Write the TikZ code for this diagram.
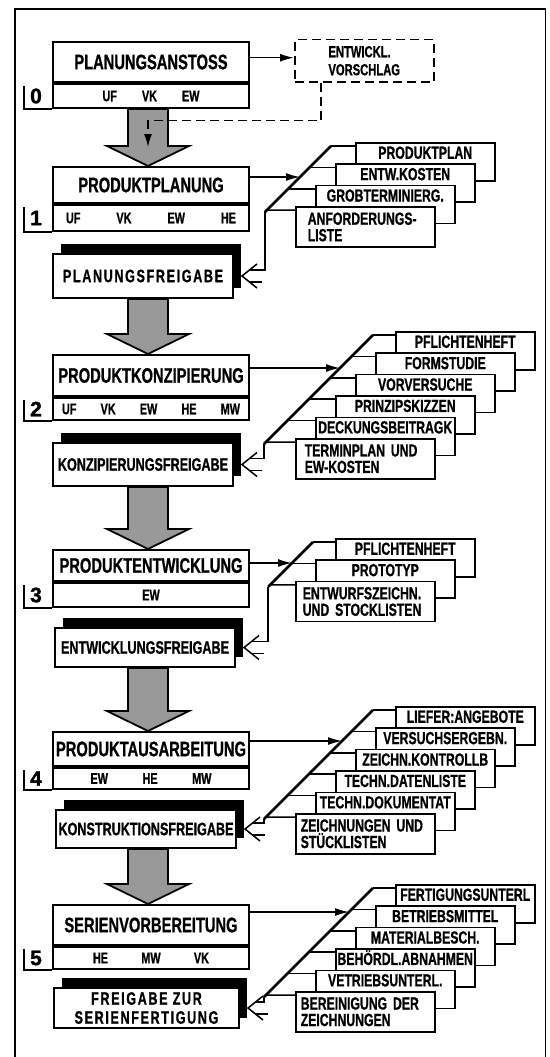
\documentclass[tikz,border=0pt]{standalone}
\usepackage{fontspec}
\setmainfont{Liberation Sans}
\newfontfamily\condfont{Liberation Sans}[FakeStretch=0.7, FakeBold=0.8]
\newfontfamily\numfont{Liberation Sans}[FakeBold=1.5]
\usetikzlibrary{arrows.meta, calc, shadows, backgrounds}

\tikzset{
  stagebox/.style={draw, line width=2pt, fill=white, anchor=north west,
    minimum width=196pt, inner sep=0pt,
    font=\condfont\bfseries\fontsize{21}{24}\selectfont},
  stagesub/.style={draw, line width=2pt, fill=white, anchor=north west,
    minimum width=196pt, inner sep=0pt,
    font=\condfont\bfseries\fontsize{15.5}{18}\selectfont},
  stagenum/.style={inner sep=0pt, font=\numfont\bfseries\fontsize{21}{24}\selectfont},
  tab/.style={line width=2pt},
  release/.style={draw, line width=2pt, fill=white, anchor=north west,
    minimum width=180pt, inner sep=0pt, align=center,
    font=\condfont\bfseries\fontsize{18}{19}\selectfont,
    general shadow={fill=black, shadow xshift=8pt, shadow yshift=10pt}},
  spaced/.style={font=\condfont\bfseries\fontsize{18}{19}\selectfont\addfontfeature{LetterSpace=9}},
  docbase/.style={draw, line width=1.5pt, fill=white, anchor=north west,
    minimum width=139pt, inner sep=0pt,
    font=\condfont\bfseries\fontsize{17.5}{16.5}\selectfont},
  doc/.style={docbase, text height=16pt, text depth=22pt},
  lastdoc/.style={docbase, minimum height=40pt, align=left,
    text width=129pt, inner xsep=5pt},
  proposalbox/.style={draw, line width=1.5pt, dash pattern=on 9pt off 5pt,
    anchor=north west, minimum width=139pt, minimum height=42pt, align=left,
    font=\condfont\bfseries\fontsize{16}{18}\selectfont},
  spine/.style={line width=2.5pt},
  tap/.style={line width=1.5pt},
  feed/.style={line width=1.5pt, -{Latex[length=14pt, width=8pt]}},
  bigarrow/.style={draw, line width=1.8pt, fill=black!40},
  frame/.style={line width=1.5pt}
}

\begin{document}
\begin{tikzpicture}[x=1pt, y=-1pt]
  \useasboundingbox (0,0) rectangle (549,1057);

  % stage 0
  \node[stagebox, minimum height=40pt] (st0) at (52,41) {PLANUNGSANSTOSS};
  \node[stagesub, minimum height=24pt, text width=97pt] (sub0) at (st0.south west) {UF\hfill VK\hfill EW};
  \node[stagenum] (n0) at ($(sub0.west)+(-16,0)$) {0};
  \draw[tab] ($(sub0.north west)+(-28,3)$) |- (sub0.south west);
  \node[proposalbox] (proposal) at (294,39) {ENTWICKL.\\VORSCHLAG};
  \coordinate (pin) at ($(proposal.north west)!0.43!(proposal.south west)$);
  \draw[feed] (st0.east |- pin) -- (pin);

  % stage 1
  \node[stagebox, minimum height=36pt] (st1) at (52,166) {PRODUKTPLANUNG};
  \node[stagesub, minimum height=26pt, text width=170pt] (sub1) at (st1.south west) {UF\hfill VK\hfill EW\hfill HE};
  \node[stagenum] (n1) at ($(sub1.west)+(-16,0)$) {1};
  \draw[tab] ($(sub1.north west)+(-28,3)$) |- (sub1.south west);
  \node[release, minimum height=44pt, spaced] (rel1) at (52,253) {PLANUNGSFREIGABE};
  \foreach \txt [count=\i from 0] in {PRODUKTPLAN, ENTW.KOSTEN, GROBTERMINIERG.}
    \node[doc] (d1-\i) at ({355-20*\i}, {142+21.4*\i}) {\txt};
  \node[lastdoc, inner xsep=12pt, text width=115pt] (d1-3) at (295,206.2) {ANFORDERUNGS-\\LISTE};
  \coordinate (sp1a) at (331,146);
  \coordinate (sp1b) at (264.8,212.2);
  \coordinate (sp1f) at (300,177);
  \draw[spine] (sp1a) -- (sp1b);
  \foreach \i in {0,...,3}
    \draw[tap] ({331-21.4*\i}, {146+21.4*\i}) -- ($(d1-\i.north west)+(0,4)$);
  \draw[feed] (st1.east |- sp1f) -- (sp1f);
  \draw[tap] (sp1b) |- ($(rel1.east)+(16,-6)$);

  % stage 2
  \node[stagebox, minimum height=41pt] (st2) at (52,354) {PRODUKTKONZIPIERUNG};
  \node[stagesub, minimum height=22pt, text width=178pt] (sub2) at (st2.south west) {UF\hfill VK\hfill EW\hfill HE\hfill MW};
  \node[stagenum] (n2) at ($(sub2.west)+(-16,0)$) {2};
  \draw[tab] ($(sub2.north west)+(-28,3)$) |- (sub2.south west);
  \node[release, minimum height=43pt] (rel2) at (52,442) {KONZIPIERUNGSFREIGABE};
  \foreach \txt [count=\i from 0] in {PFLICHTENHEFT, FORMSTUDIE, VORVERSUCHE, PRINZIPSKIZZEN, DECKUNGSBEITRAGK}
    \node[doc] (d2-\i) at ({395-20*\i}, {331+21.4*\i}) {\txt};
  \node[lastdoc, inner xsep=9pt, text width=121pt] (d2-5) at (295,438) {TERMINPLAN UND\\EW-KOSTEN};
  \coordinate (sp2a) at (373,335);
  \coordinate (sp2b) at (264,444);
  \coordinate (sp2f) at (340,368);
  \draw[spine] (sp2a) -- (sp2b);
  \foreach \i in {0,...,5}
    \draw[tap] ({373-21.4*\i}, {335+21.4*\i}) -- ($(d2-\i.north west)+(0,4)$);
  \draw[feed] (st2.east |- sp2f) -- (sp2f);
  \draw[tap] (sp2b) |- ($(rel2.east)+(16,-6)$);

  % stage 3
  \node[stagebox, minimum height=31pt] (st3) at (52,549) {PRODUKTENTWICKLUNG};
  \node[stagesub, minimum height=24pt] (sub3) at (st3.south west) {EW};
  \node[stagenum] (n3) at ($(sub3.west)+(-16,0)$) {3};
  \draw[tab] ($(sub3.north west)+(-28,3)$) |- (sub3.south west);
  \node[release, minimum height=39pt] (rel3) at (54,627) {ENTWICKLUNGSFREIGABE};
  \foreach \txt [count=\i from 0] in {PFLICHTENHEFT, PROTOTYP}
    \node[doc] (d3-\i) at ({335-20*\i}, {538+21.4*\i}) {\txt};
  \node[lastdoc, inner xsep=7pt, text width=125pt] (d3-2) at (295,580.8) {ENTWURFSZEICHN.\\UND STOCKLISTEN};
  \coordinate (sp3a) at (313,542);
  \coordinate (sp3b) at (268.2,586.8);
  \coordinate (sp3f) at (292,563);
  \draw[spine] (sp3a) -- (sp3b);
  \foreach \i in {0,...,2}
    \draw[tap] ({313-21.4*\i}, {542+21.4*\i}) -- ($(d3-\i.north west)+(0,4)$);
  \draw[feed] (st3.east |- sp3f) -- (sp3f);
  \draw[tap] (sp3b) |- ($(rel3.east)+(16,-6)$);

  % stage 4
  \node[stagebox, minimum height=34pt] (st4) at (52,731) {PRODUKTAUSARBEITUNG};
  \node[stagesub, minimum height=21pt, text width=121pt] (sub4) at (st4.south west) {EW\hfill HE\hfill MW};
  \node[stagenum] (n4) at ($(sub4.west)+(-16,0)$) {4};
  \draw[tab] ($(sub4.north west)+(-28,3)$) |- (sub4.south west);
  \node[release, minimum height=38pt] (rel4) at (55,809) {KONSTRUKTIONSFREIGABE};
  \foreach \txt [count=\i from 0] in {LIEFER:ANGEBOTE, VERSUCHSERGEBN., ZEICHN.KONTROLLB, TECHN.DATENLISTE, TECHN.DOKUMENTAT}
    \node[doc] (d4-\i) at ({395-20*\i}, {706+21.4*\i}) {\txt};
  \node[lastdoc] (d4-5) at (295,813) {ZEICHNUNGEN UND\\STÜCKLISTEN};
  \coordinate (sp4a) at (373,710);
  \coordinate (sp4b) at (264,819);
  \coordinate (sp4f) at (342,741);
  \draw[spine] (sp4a) -- (sp4b);
  \foreach \i in {0,...,5}
    \draw[tap] ({373-21.4*\i}, {710+21.4*\i}) -- ($(d4-\i.north west)+(0,4)$);
  \draw[feed] (st4.east |- sp4f) -- (sp4f);
  \draw[tap] (sp4b) |- ($(rel4.east)+(16,-6)$);

  % stage 5
  \node[stagebox, minimum height=40pt] (st5) at (52,904) {SERIENVORBEREITUNG};
  \node[stagesub, minimum height=22pt, text width=116pt] (sub5) at (st5.south west) {HE\hfill MW\hfill VK};
  \node[stagenum] (n5) at ($(sub5.west)+(-16,0)$) {5};
  \draw[tab] ($(sub5.north west)+(-28,3)$) |- (sub5.south west);
  \node[release, minimum height=40pt, minimum width=185pt, spaced] (rel5) at (53,987) {FREIGABE ZUR\\SERIENFERTIGUNG};
  \foreach \txt [count=\i from 0] in {FERTIGUNGSUNTERL, BETRIEBSMITTEL, MATERIALBESCH., BEHÖRDL.ABNAHMEN, VETRIEBSUNTERL.}
    \node[doc] (d5-\i) at ({395-20*\i}, {884+21.4*\i}) {\txt};
  \node[lastdoc] (d5-5) at (295,991) {BEREINIGUNG DER\\ZEICHNUNGEN};
  \coordinate (sp5a) at (373,888);
  \coordinate (sp5b) at (264,997);
  \coordinate (sp5f) at (349,912);
  \draw[spine] (sp5a) -- (sp5b);
  \foreach \i in {0,...,5}
    \draw[tap] ({373-21.4*\i}, {888+21.4*\i}) -- ($(d5-\i.north west)+(0,4)$);
  \draw[feed] (st5.east |- sp5f) -- (sp5f);
  \draw[tap] (sp5b) |- ($(rel5.east)+(16,-6)$);

  % open double heads at the release boxes
  \foreach \r in {rel1, rel2, rel3, rel4, rel5} {
    \coordinate (tip) at ($(\r.east)+(8,0)$);
    \draw[tap] ($(tip)+(15,-12)$) -- (tip) -- ($(tip)+(15,12)$);
    \draw[tap] ($(tip)+(8,6)$) -- ($(tip)+(20,6)$);
  }

  % frame and flow arrows behind
  \begin{scope}[on background layer]
    \draw[frame] (15,1057) -- (15,9) -- (545.5,9) -- (545.5,1057);
    \foreach \from/\to in {sub0/st1, rel1/st2, rel2/st3, rel3/st4, rel4/st5}
      \draw[bigarrow] let \p1 = (\from.south), \p2 = (\to.north) in
        (128pt,\y1) -- (168pt,\y1) -- (168pt,\y2+20pt) -- (189pt,\y2+20pt)
        -- (148pt,\y2) -- (107pt,\y2+20pt) -- (128pt,\y2+20pt) -- cycle;
  \end{scope}

  % proposal fed back into the flow
  \coordinate (ptip) at (148,147);
  \draw[line width=1.5pt, dash pattern=on 9pt off 5pt, -{Latex[length=13pt, width=8pt]}]
    ($(proposal.south west)+(27,0)$) -- ++(0,38) -| (ptip);
\end{tikzpicture}
\end{document}
